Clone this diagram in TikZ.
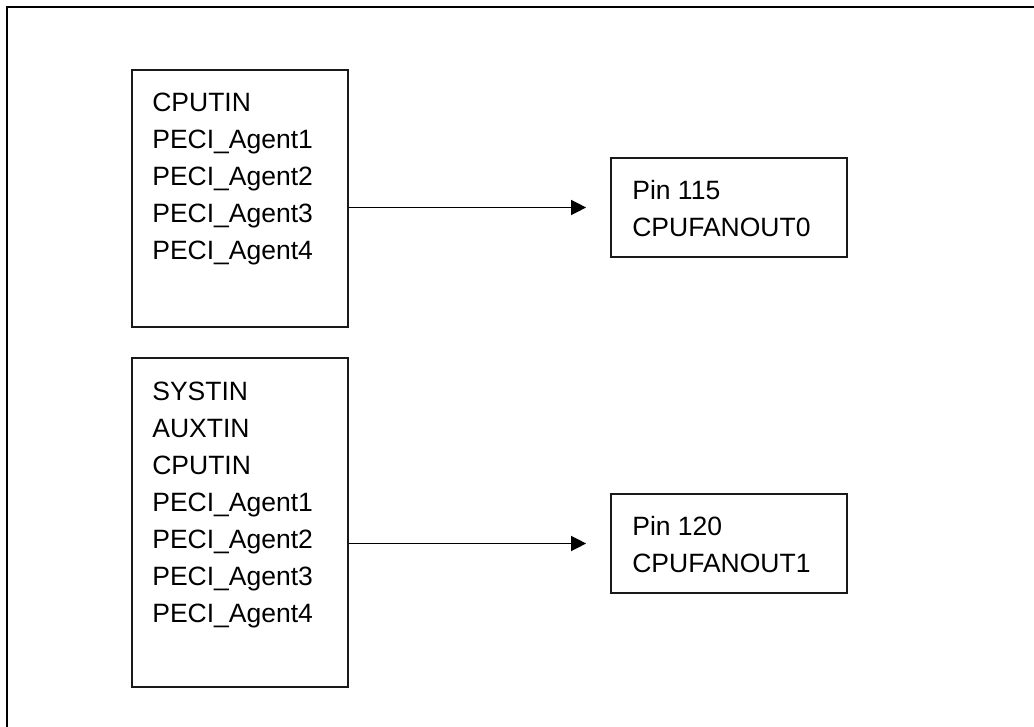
\documentclass[tikz,border=0pt]{standalone}
\usepackage{fontspec}
\setmainfont{Liberation Sans}
\usetikzlibrary{arrows.meta,positioning}

\tikzset{
  srcbox/.style={draw=black!90, line width=1.7pt, rectangle, inner sep=0pt, minimum width=216pt},
  pinbox/.style={draw=black!90, line width=1.7pt, rectangle, inner sep=0pt, minimum width=236pt, minimum height=99pt},
  boxtext/.style={inner sep=0pt, anchor=north west, align=left, font=\fontsize{26.5}{37}\selectfont},
  fanarrow/.style={line width=1.4pt, -{Triangle[length=15pt,width=15pt]}, shorten >=24pt}
}

\begin{document}
\begin{tikzpicture}[x=1pt,y=-1pt]
\useasboundingbox [fill=white] (0,0) rectangle (1034,727);
% outer frame
\draw [line width=2pt] (7,727) -- (7,7) -- (1034,7);
% sources
\node [srcbox, minimum height=257pt] (cpusrc) at (240,198.5) {};
\node [boxtext, below right=24pt and 21pt of cpusrc.north west] (cpusrctext)
  {CPUTIN\\PECI\_Agent1\\PECI\_Agent2\\PECI\_Agent3\\PECI\_Agent4};
\node [srcbox, minimum height=329pt] (syssrc) at (240,522.5) {};
\node [boxtext, below right=25pt and 21pt of syssrc.north west] (syssrctext)
  {SYSTIN\\AUXTIN\\CPUTIN\\PECI\_Agent1\\PECI\_Agent2\\PECI\_Agent3\\PECI\_Agent4};
% fan outputs
\node [pinbox] (fanout0) at (729,207.5) {};
\node [boxtext, below right=23pt and 22pt of fanout0.north west] (fanout0text)
  {Pin 115\\CPUFANOUT0};
\node [pinbox] (fanout1) at (729,543.5) {};
\node [boxtext, below right=23pt and 22pt of fanout1.north west] (fanout1text)
  {Pin 120\\CPUFANOUT1};
% arrows
\draw [fanarrow] (fanout0.west -| cpusrc.east) -- (fanout0.west);
\draw [fanarrow] (fanout1.west -| syssrc.east) -- (fanout1.west);
\end{tikzpicture}
\end{document}
